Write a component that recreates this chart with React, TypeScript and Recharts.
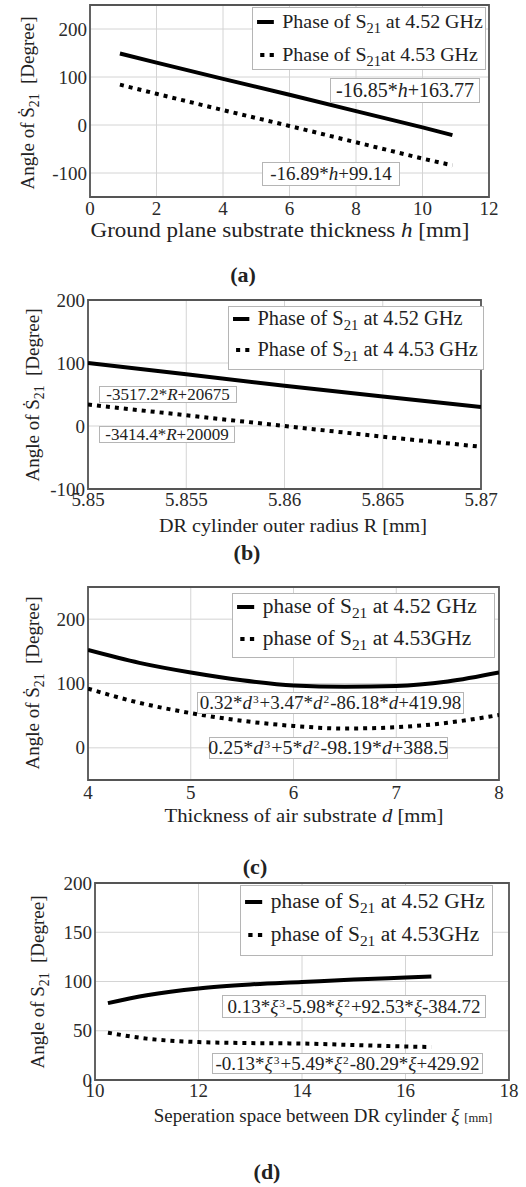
import React from "react";
import {
  LineChart,
  Line,
  XAxis,
  YAxis,
  CartesianGrid,
  ReferenceArea,
} from "recharts";

const FONT = '"Liberation Serif", "Times New Roman", serif';

// (a) ground plane substrate thickness h [mm]
const hValues = [0.9, 2, 4, 6, 8, 10, 10.9];
const phaseA452 = [149, 130, 96, 63, 29, -5, -21];
const phaseA453 = [84, 65, 31, -2, -36, -70, -84];
const ticksAX = [0, 2, 4, 6, 8, 10, 12];
const ticksAY = [-100, 0, 100, 200];

// (b) DR cylinder outer radius R [mm]
const rValues = [5.85, 5.855, 5.86, 5.865, 5.87];
const phaseB452 = [100, 82, 64, 47, 30];
const phaseB453 = [34, 17, 0, -17, -33];
const ticksBX = [5.85, 5.855, 5.86, 5.865, 5.87];
const ticksBY = [-100, 0, 100, 200];

// (c) thickness of air substrate d [mm]
const dValues = [4, 4.5, 5, 5.5, 6, 6.5, 7, 7.5, 8];
const phaseC452 = [152, 132, 117, 105, 97, 95, 96, 103, 117];
const phaseC453 = [92, 70, 54, 42, 34, 30, 32, 39, 51];
const ticksCX = [4, 5, 6, 7, 8];
const ticksCY = [0, 100, 200];

// (d) separation space between DR cylinder xi [mm]
const xiValues = [10.25, 11, 12, 13, 14, 15, 16, 16.5];
const phaseD452 = [78, 86, 93, 97, 99.5, 102, 104, 105];
const phaseD453 = [48, 42, 38.5, 37.5, 37, 35.5, 34, 33.5];
const ticksDX = [10, 12, 14, 16, 18];
const ticksDY = [0, 50, 100, 150, 200];

const rows = (xs: number[], s: number[], d: number[]) =>
  xs.map((x, i) => ({ x, s452: s[i], s453: d[i] }));

const Sub = ({ children }: { children: React.ReactNode }) => (
  <span style={{ fontSize: "0.72em", position: "relative", top: "0.38em" }}>{children}</span>
);
const Sup = ({ children }: { children: React.ReactNode }) => (
  <span style={{ fontSize: "0.6em", position: "relative", top: "-0.5em", margin: "0 1px" }}>{children}</span>
);

const Abs = ({ style, children }: { style: React.CSSProperties; children?: React.ReactNode }) => (
  <div style={{ position: "absolute", whiteSpace: "nowrap", ...style }}>{children}</div>
);

const Centered = ({ x, y, size, bold, sx = 1, children }: any) => (
  <Abs
    style={{
      left: x,
      top: y,
      transform: `translate(-50%, -50%) scaleX(${sx})`,
      fontSize: size,
      fontWeight: bold ? "bold" : "normal",
      color: "#222",
    }}
  >
    {children}
  </Abs>
);

const YTitle = ({ x, y, dot = true }: { x: number; y: number; dot?: boolean }) => (
  <Abs
    style={{
      left: x,
      top: y,
      transform: "translate(-50%, -50%) rotate(-90deg)",
      fontSize: 19,
      color: "#222",
    }}
  >
    Angle of {dot ? "Ṡ" : "S"}
    <Sub>21</Sub>
    {"\u00a0 [Degree]"}
  </Abs>
);

const Box = ({ left, top, width, height, size, sx = 1, children }: any) => (
  <Abs
    style={{
      left,
      top,
      width,
      height,
      border: "1.5px solid #b5b5b5",
      background: "#fff",
      display: "flex",
      alignItems: "center",
      justifyContent: "center",
      fontSize: size,
      color: "#222",
      boxSizing: "border-box",
    }}
  >
    <span style={{ display: "inline-block", transform: `scaleX(${sx})` }}>{children}</span>
  </Abs>
);

const SolidMark = () => (
  <svg width={18} height={10} style={{ marginRight: 7 }}>
    <line x1={1} x2={17} y1={5} y2={5} stroke="#000" strokeWidth={4} />
  </svg>
);
const DotMark = () => (
  <svg width={18} height={10} style={{ marginRight: 7 }}>
    <line x1={4} x2={17} y1={5} y2={5} stroke="#000" strokeWidth={4} strokeDasharray="4 5" />
  </svg>
);

const LegendBox = ({ left, top, width, height, size, sx = 1, rowTops, first, second }: any) => (
  <Abs
    style={{
      left,
      top,
      width,
      height,
      border: "1.5px solid #b5b5b5",
      background: "#fff",
      boxSizing: "border-box",
      fontSize: size,
      color: "#222",
    }}
  >
    {[first, second].map((label, i) => (
      <Abs
        key={i}
        style={{
          left: 3,
          top: rowTops[i],
          display: "flex",
          alignItems: "center",
          transform: `scaleX(${sx})`,
          transformOrigin: "left center",
        }}
      >
        {i === 0 ? <SolidMark /> : <DotMark />}
        {label}
      </Abs>
    ))}
  </Abs>
);

const tickStyle = { fontFamily: FONT, fontSize: 19, fill: "#2a2a2a" };

const XTick = ({ x, y, payload }: any) => (
  <text x={x} y={y} dy="0.71em" textAnchor="middle" style={tickStyle}>
    {payload.value}
  </text>
);
const YTick = ({ x, y, payload }: any) => (
  <text x={x} y={y} dy="0.35em" textAnchor="end" style={tickStyle}>
    {payload.value}
  </text>
);

interface PanelProps {
  data: { x: number; s452: number; s453: number }[];
  plot: { left: number; right: number; top: number; bottom: number };
  xDomain: [number, number];
  yDomain: [number, number];
  xTicks: number[];
  yTicks: number[];
  xTickMargin: number;
  curve: "linear" | "monotone";
}

const Panel = ({ data, plot, xDomain, yDomain, xTicks, yTicks, xTickMargin, curve }: PanelProps) => {
  const pad = 12;
  const axisH = 30;
  return (
    <div style={{ position: "absolute", left: 0, top: plot.top - pad }}>
      <LineChart
        width={526}
        height={pad + (plot.bottom - plot.top) + axisH}
        data={data}
        margin={{ top: pad, right: 526 - plot.right, bottom: 0, left: 0 }}
        style={{ overflow: "visible" }}
      >
        <CartesianGrid stroke="#d4d4d4" strokeWidth={1} />
        <XAxis
          dataKey="x"
          type="number"
          domain={xDomain}
          ticks={xTicks}
          interval={0}
          allowDataOverflow
          axisLine={false}
          tickLine={false}
          tickSize={0}
          tickMargin={xTickMargin}
          height={axisH}
          tick={<XTick />}
        />
        <YAxis
          type="number"
          domain={yDomain}
          ticks={yTicks}
          interval={0}
          allowDataOverflow
          axisLine={false}
          tickLine={false}
          tickSize={0}
          tickMargin={3}
          width={plot.left}
          tick={<YTick />}
        />
        <ReferenceArea
          x1={xDomain[0]}
          x2={xDomain[1]}
          y1={yDomain[0]}
          y2={yDomain[1]}
          fill="none"
          fillOpacity={0}
          stroke="#555"
          strokeWidth={1.8}
        />
        <Line
          type={curve}
          dataKey="s452"
          stroke="#000"
          strokeWidth={4}
          dot={false}
          isAnimationActive={false}
        />
        <Line
          type={curve}
          dataKey="s453"
          stroke="#000"
          strokeWidth={4}
          strokeDasharray="4 5"
          dot={false}
          isAnimationActive={false}
        />
      </LineChart>
    </div>
  );
};

const S21 = () => (
  <>
    S<Sub>21</Sub>
  </>
);

export default function App() {
  return (
    <div
      style={{
        position: "absolute",
        left: 0,
        top: 0,
        width: 526,
        height: 1187,
        background: "#fff",
        fontFamily: FONT,
        overflow: "hidden",
      }}
    >
      {/* (a) */}
      <Panel
        data={rows(hValues, phaseA452, phaseA453)}
        plot={{ left: 90, right: 489, top: 5, bottom: 197 }}
        xDomain={[0, 12]}
        yDomain={[-150, 250]}
        xTicks={ticksAX}
        yTicks={ticksAY}
        xTickMargin={5}
        curve="linear"
      />
      <YTitle x={28} y={103} />
      <LegendBox
        left={252}
        top={7}
        width={234}
        height={63}
        size={19}
        sx={1.05}
        rowTops={[3, 36]}
        first={<span>Phase of <S21 /> at 4.52 GHz</span>}
        second={<span>Phase of <S21 />at 4.53 GHz</span>}
      />
      <Box left={330} top={78} width={150} height={25} size={20}>
        -16.85*<i>h</i>+163.77
      </Box>
      <Box left={262} top={162} width={138} height={24} size={19}>
        -16.89*<i>h</i>+99.14
      </Box>
      <Centered x={280} y={230} size={20} sx={1.15}>
        Ground plane substrate thickness <i>h</i> [mm]
      </Centered>
      <Centered x={243} y={275} size={22} bold>
        (a)
      </Centered>

      {/* (b) */}
      <Panel
        data={rows(rValues, phaseB452, phaseB453)}
        plot={{ left: 88, right: 481, top: 300, bottom: 489 }}
        xDomain={[5.85, 5.87]}
        yDomain={[-100, 200]}
        xTicks={ticksBX}
        yTicks={ticksBY}
        xTickMargin={4}
        curve="linear"
      />
      <YTitle x={33} y={395} />
      <LegendBox
        left={228}
        top={306}
        width={256}
        height={64}
        size={20}
        sx={1.02}
        rowTops={[0, 31]}
        first={<span>Phase of <S21 /> at 4.52 GHz</span>}
        second={<span>Phase of <S21 /> at 4 4.53 GHz</span>}
      />
      <Box left={99} top={386} width={138} height={17} size={17}>
        -3517.2*<i>R</i>+20675
      </Box>
      <Box left={99} top={426} width={136} height={17} size={17}>
        -3414.4*<i>R</i>+20009
      </Box>
      <Centered x={293} y={526} size={19} sx={1.06}>
        DR cylinder outer radius R [mm]
      </Centered>
      <Centered x={247} y={553} size={22} bold>
        (b)
      </Centered>

      {/* (c) */}
      <Panel
        data={rows(dValues, phaseC452, phaseC453)}
        plot={{ left: 88, right: 499, top: 587, bottom: 780 }}
        xDomain={[4, 8]}
        yDomain={[-50, 250]}
        xTicks={ticksCX}
        yTicks={ticksCY}
        xTickMargin={6}
        curve="monotone"
      />
      <YTitle x={33} y={683} />
      <LegendBox
        left={232}
        top={593}
        width={263}
        height={65}
        size={20}
        sx={1.07}
        rowTops={[1, 33]}
        first={<span>phase of <S21 /> at 4.52 GHz</span>}
        second={<span>phase of <S21 /> at 4.53GHz</span>}
      />
      <Box left={197} top={692} width={267} height={22} size={19}>
        0.32*<i>d</i>
        <Sup>3</Sup>+3.47*<i>d</i>
        <Sup>2</Sup>-86.18*<i>d</i>+419.98
      </Box>
      <Box left={209} top={737} width={239} height={22} size={19} sx={1.05}>
        0.25*<i>d</i>
        <Sup>3</Sup>+5*<i>d</i>
        <Sup>2</Sup>-98.19*<i>d</i>+388.5
      </Box>
      <Centered x={304} y={816} size={19} sx={1.09}>
        Thickness of air substrate <i>d</i> [mm]
      </Centered>
      <Centered x={255} y={867} size={22} bold>
        (c)
      </Centered>

      {/* (d) */}
      <Panel
        data={rows(xiValues, phaseD452, phaseD453)}
        plot={{ left: 95, right: 509, top: 883, bottom: 1080 }}
        xDomain={[10, 18]}
        yDomain={[0, 200]}
        xTicks={ticksDX}
        yTicks={ticksDY}
        xTickMargin={4}
        curve="monotone"
      />
      <YTitle x={38} y={982} dot={false} />
      <LegendBox
        left={240}
        top={885}
        width={253}
        height={71}
        size={20}
        sx={1.07}
        rowTops={[4, 37]}
        first={<span>phase of <S21 /> at 4.52 GHz</span>}
        second={<span>phase of <S21 /> at 4.53GHz</span>}
      />
      <Box left={222} top={995} width={264} height={23} size={19}>
        0.13*<i>ξ</i>
        <Sup>3</Sup>-5.98*<i>ξ</i>
        <Sup>2</Sup>+92.53*<i>ξ</i>-384.72
      </Box>
      <Box left={212} top={1053} width={271} height={21} size={19}>
        -0.13*<i>ξ</i>
        <Sup>3</Sup>+5.49*<i>ξ</i>
        <Sup>2</Sup>-80.29*<i>ξ</i>+429.92
      </Box>
      <Centered x={323} y={1116} size={18} sx={1.05}>
        Seperation space between DR cylinder <i>ξ</i> <span style={{ fontSize: 12 }}>[mm]</span>
      </Centered>
      <Centered x={267} y={1172} size={22} bold>
        (d)
      </Centered>
    </div>
  );
}
